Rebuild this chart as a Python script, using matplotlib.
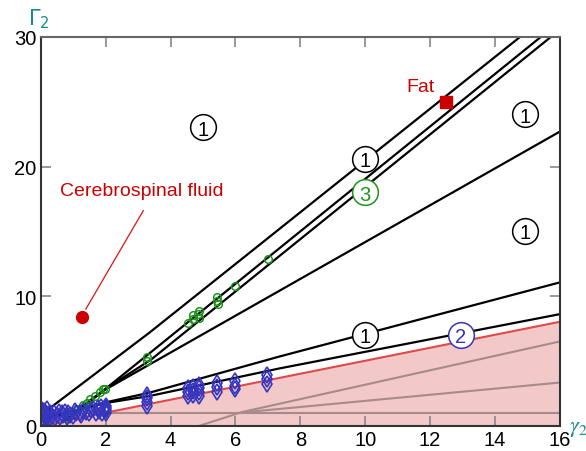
import matplotlib
matplotlib.use('Agg')
import matplotlib.pyplot as plt

plt.rcParams['font.family'] = ['Liberation Sans', 'DejaVu Sans']

# boundary curves (gamma2, Gamma2 vertices)
line_a_x = [0.2, 3.36, 14.77]
line_a_y = [1.2, 7.2, 30.0]
line_b_x = [0.7, 2.0, 15.41]
line_b_y = [0.35, 2.85, 30.0]
line_c_x = [0.7, 2.0, 3.4, 15.72]
line_c_y = [0.35, 2.85, 5.1, 30.0]
line_d_x = [0.7, 2.0, 16.0]
line_d_y = [0.35, 2.8, 22.7]
line_e_x = [0.2, 2.0, 3.37, 7.36, 16.0]
line_e_y = [0.6, 1.8, 2.56, 5.34, 11.06]
line_f_x = [0.2, 2.0, 3.37, 7.36, 16.0]
line_f_y = [0.6, 1.75, 2.3, 4.42, 8.61]
red_x = [0.0, 16.0]
red_y = [0.0, 8.02]

# gray lines inside shaded region
gray1_x = [4.9, 6.2, 16.0]
gray1_y = [0.0, 1.05, 6.5]
gray2_x = [6.2, 16.0]
gray2_y = [1.02, 3.33]
gray3_x = [0.0, 16.0]
gray3_y = [1.0, 1.0]

# measured tissues
green_x = [0.8, 0.9, 1.0, 1.16, 1.31, 1.42, 1.52, 1.67, 1.83, 1.93, 1.98,
           3.26, 3.26, 4.53, 4.69, 4.69, 4.85, 4.88, 4.88, 5.42, 5.42, 5.45,
           5.98, 7.0]
green_y = [0.63, 0.81, 1.02, 1.27, 1.58, 1.74, 2.05, 2.3, 2.61, 2.82, 2.87,
           5.27, 5.0, 7.89, 8.22, 8.53, 8.61, 8.87, 8.28, 9.9, 9.64, 9.38,
           10.8, 12.86]

blue_x = [0.05, 0.05, 0.05, 0.05, 0.1, 0.1, 0.1, 0.15, 0.15, 0.2, 0.2, 0.25,
          0.3, 0.3, 0.35, 0.4, 0.45, 0.5, 0.55, 0.6, 0.65, 0.7, 0.75, 0.8,
          0.85, 0.9, 1.0, 1.05, 1.1, 1.2, 1.25, 1.3, 1.4, 1.5, 1.55, 1.6,
          1.7, 1.75, 1.8, 1.85, 1.9, 1.95, 2.0, 2.0, 2.0, 2.0,
          3.27, 3.27, 3.27, 3.27,
          4.54, 4.54, 4.54, 4.69, 4.69, 4.69, 4.88, 4.88, 4.88, 4.88,
          5.42, 5.42, 5.42, 5.98, 5.98, 5.98, 6.97, 6.97, 6.97]
blue_y = [0.3, 0.6, 0.9, 1.2, 0.45, 0.8, 1.1, 0.5, 1.0, 0.7, 1.25, 0.9,
          0.6, 1.0, 0.75, 0.95, 0.6, 0.85, 1.05, 0.7, 0.95, 0.8, 1.05, 0.7,
          0.95, 0.85, 0.75, 1.1, 0.95, 1.0, 0.8, 1.15, 1.05, 0.95, 1.2, 1.3,
          0.95, 1.35, 1.1, 1.45, 1.0, 1.3, 1.55, 1.2, 0.95, 1.4,
          1.5, 1.8, 2.1, 2.35,
          2.3, 2.6, 2.9, 2.4, 2.7, 3.0, 2.3, 2.6, 2.9, 3.15,
          2.6, 2.95, 3.3, 2.8, 3.1, 3.45, 3.25, 3.6, 3.95]

csf_x, csf_y = 1.26, 8.36
fat_x, fat_y = 12.5, 25.0

# region labels: (x, y, text, color)
region_x = [5.0, 10.0, 14.93, 14.93, 10.0, 12.95, 10.0]
region_y = [23.05, 20.6, 24.05, 15.04, 7.0, 7.0, 18.0]
region_txt = ['1', '1', '1', '1', '1', '2', '3']
region_col = ['black', 'black', 'black', 'black', 'black', '#3535b5', '#1e941e']

xticks = list(range(0, 17, 2))
yticks = [0, 10, 20, 30]

fig = plt.figure(figsize=(5.86, 4.52), dpi=100)
ax = fig.add_axes([0.0695, 0.056, 0.886, 0.860])

ax.fill_between(red_x, red_y, 0, color='#f2c8c8', lw=0, zorder=1)
for gx, gy in [(gray1_x, gray1_y), (gray2_x, gray2_y), (gray3_x, gray3_y)]:
    ax.plot(gx, gy, color='#a88a8a', lw=1.5, zorder=2)
ax.plot(red_x, red_y, color='#e04848', lw=1.5, zorder=3)

for lx, ly in [(line_a_x, line_a_y), (line_b_x, line_b_y), (line_c_x, line_c_y),
               (line_d_x, line_d_y), (line_e_x, line_e_y), (line_f_x, line_f_y)]:
    ax.plot(lx, ly, color='black', lw=1.6, zorder=4, solid_capstyle='butt')

ax.plot(green_x, green_y, 'o', ms=5.5, mfc='none', mec='#1e941e', mew=1.1, zorder=5)
ax.plot(blue_x, blue_y, 'd', ms=8, mfc='none', mec='#3535c0', mew=1.2, zorder=6)

# CSF and fat
ax.plot(csf_x, csf_y, 'o', ms=8.5, color='#cc0000', zorder=7)
ax.plot([1.39, 3.16], [9.0, 16.59], color='#dd1111', lw=0.9, zorder=7)
ax.text(0.59, 18.13, 'Cerebrospinal fluid', color='#cc0000', fontsize=14,
        ha='left', va='center', zorder=7)
ax.plot(fat_x, fat_y, 's', ms=8, color='#cc0000', zorder=7)
ax.text(11.7, 26.2, 'Fat', color='#cc0000', fontsize=14, ha='center',
        va='center', zorder=7)

for rx, ry, rt, rc in zip(region_x, region_y, region_txt, region_col):
    ax.plot(rx, ry, 'o', ms=18.5, mfc='white', mec=rc, mew=1.1, zorder=8)
    ax.text(rx, ry, rt, color=rc, fontsize=14.5, ha='center', va='center_baseline',
            zorder=9)

ax.set_xlim(0, 16)
ax.set_ylim(0, 30)
ax.set_xticks(xticks)
ax.set_yticks(yticks)
ax.tick_params(direction='in', length=7, width=1.2, color='#888888',
               top=True, right=True, labelsize=14.5, pad=3)
for s in ax.spines.values():
    s.set_color('#333333')
    s.set_linewidth(1.5)
    s.set_zorder(10)
ax.spines['top'].set_color('#666666')

fig.text(0.066, 0.958, '$\\Gamma_2$', color='#128c8c', fontsize=15,
         ha='center', va='center', math_fontfamily='dejavusans')
fig.text(0.986, 0.052, '$\\gamma_2$', color='#128c8c', fontsize=16,
         ha='center', va='center', math_fontfamily='stix')

fig.savefig('out.png', dpi=100)
